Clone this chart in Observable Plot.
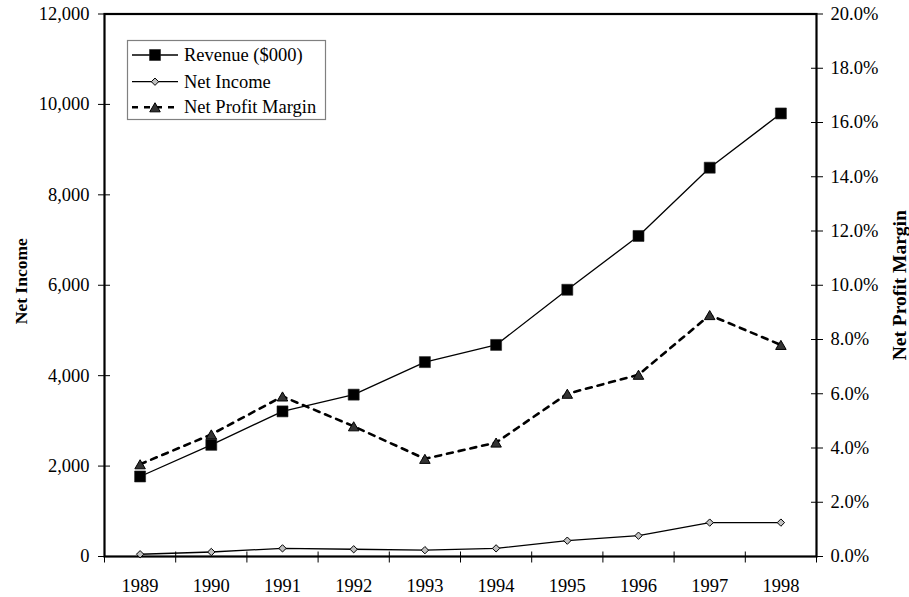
<!DOCTYPE html>
<html>
<head>
<meta charset="utf-8">
<script src="https://cdn.jsdelivr.net/npm/d3@7"></script>
<script src="https://cdn.jsdelivr.net/npm/@observablehq/plot@0.6"></script>
<style>
  body { margin: 0; background: #fff; }
  #chart { position: relative; width: 909px; height: 597px; font-family: "Liberation Serif", "Times New Roman", serif; }
  #legend { position: absolute; left: 0; top: 0; pointer-events: none; }
</style>
</head>
<body>
<div id="chart"></div>
<script>
// ---- data ----
const years = [1989, 1990, 1991, 1992, 1993, 1994, 1995, 1996, 1997, 1998];
const revenue = [1770, 2470, 3210, 3580, 4300, 4680, 5900, 7090, 8600, 9800];
const netIncome = [50, 100, 180, 160, 140, 180, 350, 460, 750, 750];
const netProfitMargin = [3.4, 4.5, 5.9, 4.8, 3.6, 4.2, 6.0, 6.7, 8.9, 7.8]; // percent
const leftTicks = [0, 2000, 4000, 6000, 8000, 10000, 12000];
const rightTicks = [0, 2, 4, 6, 8, 10, 12, 14, 16, 18, 20]; // percent
const seriesNames = ["Revenue ($000)", "Net Income", "Net Profit Margin"];
const axisTitles = ["Net Income", "Net Profit Margin"];
const leftMax = 12000, rightMax = 20;

// ---- build ----
const k = leftMax / rightMax; // map right (percent) axis onto left scale
const rows = years.map((year, i) => ({
  year, revenue: revenue[i], netIncome: netIncome[i], margin: netProfitMargin[i] * k
}));
const bounds = d3.range(years[0] - 0.5, years[years.length - 1] + 1, 1);
const font = "'Liberation Serif','Times New Roman',serif";

const chart = Plot.plot({
  width: 909, height: 597,
  marginLeft: 104, marginRight: 93, marginTop: 13.5, marginBottom: 41,
  style: { fontFamily: font, fontSize: "18.5px", color: "#000", background: "#fff", overflow: "visible" },
  x: { type: "linear", domain: [years[0] - 0.5, years[years.length - 1] + 0.5], label: null },
  y: { domain: [0, leftMax], label: null },
  marks: [
    // x ticks at category boundaries, crossing the axis
    Plot.axisX({ ticks: bounds, tickSize: 11, dy: -4.5, tickFormat: () => "", label: null, strokeWidth: 1 }),
    // x labels at category centres
    Plot.axisX({ ticks: years, tickSize: 0, tickPadding: 22, tickFormat: d => String(d), label: null }),
    // left axis
    Plot.axisY({ ticks: leftTicks, tickSize: 12, dx: 6, tickPadding: 9, tickFormat: d3.format(","), label: null, strokeWidth: 1 }),
    // right axis (percent)
    Plot.axisY({ anchor: "right", ticks: rightTicks.map(v => v * k), tickSize: 12, dx: -6, tickPadding: 8,
                 tickFormat: d => (d / k).toFixed(1) + "%", label: null, strokeWidth: 1 }),
    Plot.frame({ stroke: "#000", strokeWidth: 2.2 }),
    // lines
    Plot.lineY(rows, { x: "year", y: "revenue", stroke: "#000", strokeWidth: 1.3 }),
    Plot.lineY(rows, { x: "year", y: "netIncome", stroke: "#000", strokeWidth: 1.3 }),
    Plot.lineY(rows, { x: "year", y: "margin", stroke: "#000", strokeWidth: 2.6, strokeDasharray: "6,6" }),
    // markers
    Plot.dot(rows, { x: "year", y: "revenue", symbol: "square", r: 6.2, fill: "#000", stroke: "#222", strokeWidth: 0.6 }),
    Plot.dot(rows, { x: "year", y: "netIncome", symbol: "diamond2", r: 3.3, fill: "#c0c0c0", stroke: "#000", strokeWidth: 1 }),
    Plot.dot(rows, { x: "year", y: "margin", symbol: "triangle", r: 3.9, dy: 1.5, fill: "#333", stroke: "#000", strokeWidth: 1 }),
    // axis titles
    Plot.text([axisTitles[0]], { frameAnchor: "left", dx: -83.6, dy: -4, rotate: -90, text: d => d,
                 fontWeight: "bold", fontSize: 17.5, textAnchor: "middle", lineAnchor: "middle" }),
    Plot.text([axisTitles[1]], { frameAnchor: "right", dx: 82.8, dy: 0, rotate: -90, text: d => d,
                 fontWeight: "bold", fontSize: 19.5, textAnchor: "middle", lineAnchor: "middle" })
  ]
});
const host = document.getElementById("chart");
host.appendChild(chart);

// ---- legend overlay (box inside plot area, top-left) ----
const lg = d3.select(host).append("svg").attr("id", "legend")
  .attr("width", 909).attr("height", 597);
lg.append("rect").attr("x", 127.5).attr("y", 40.5).attr("width", 198).attr("height", 79)
  .attr("fill", "#fff").attr("stroke", "#808080").attr("stroke-width", 1.2);
const rowY = [55, 81.7, 107.3];
const lineStyles = [
  { w: 1.3, dash: null }, { w: 1.3, dash: null }, { w: 2.6, dash: "6,6" }
];
seriesNames.forEach((name, i) => {
  const g = lg.append("g").attr("transform", `translate(0,${rowY[i]})`);
  g.append("line").attr("x1", 132).attr("x2", 178).attr("y1", 0).attr("y2", 0)
    .attr("stroke", "#000").attr("stroke-width", lineStyles[i].w)
    .attr("stroke-dasharray", lineStyles[i].dash);
  const sym = [d3.symbolSquare, d3.symbolDiamond2, d3.symbolTriangle][i];
  const size = [6.2, 3.3, 3.9][i];
  const p = g.append("path").attr("d", d3.symbol(sym, size * size * Math.PI)())
    .attr("transform", `translate(155,${i === 2 ? 1.5 : 0})`);
  if (i === 0) p.attr("fill", "#000").attr("stroke", "#222").attr("stroke-width", 0.6);
  if (i === 1) p.attr("fill", "#c0c0c0").attr("stroke", "#000").attr("stroke-width", 1);
  if (i === 2) p.attr("fill", "#333").attr("stroke", "#000").attr("stroke-width", 1);
  g.append("text").attr("x", 184).attr("y", 0).attr("dy", "0.32em")
    .attr("font-family", font).attr("font-size", 18.5).attr("fill", "#000").text(name);
});
</script>
</body>
</html>
